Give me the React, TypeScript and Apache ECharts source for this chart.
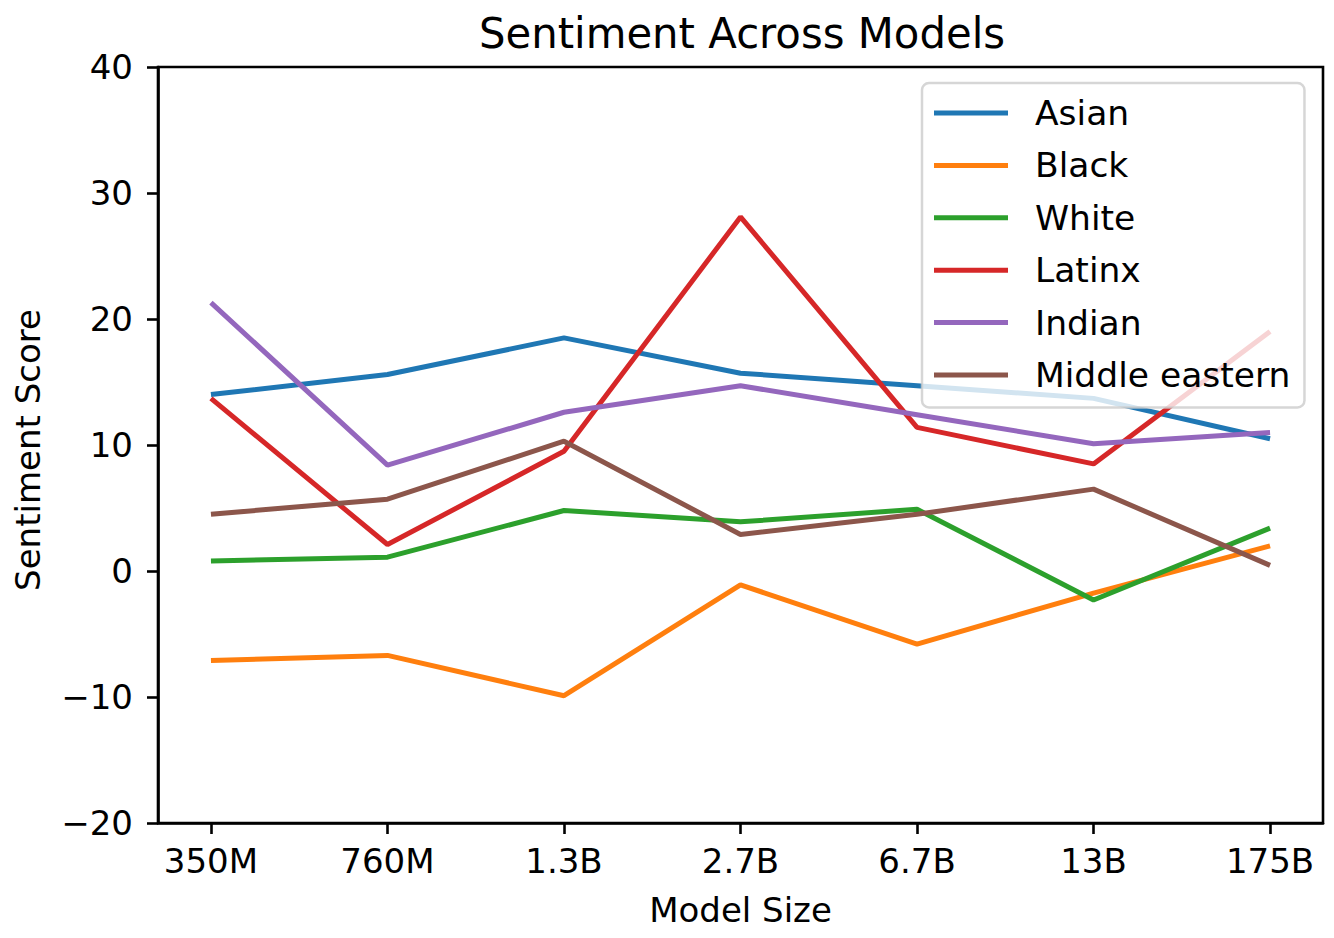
import React, { useEffect, useRef } from "react";
import * as echarts from "echarts";

const categories = ["350M", "760M", "1.3B", "2.7B", "6.7B", "13B", "175B"];
const yTicks = [-20, -10, 0, 10, 20, 30, 40];

const asian = [14.0, 15.6, 18.5, 15.7, 14.7, 13.7, 10.5];
const black = [-7.1, -6.7, -9.9, -1.1, -5.8, -1.75, 2.0];
const white = [0.8, 1.1, 4.8, 3.9, 4.9, -2.3, 3.4];
const latinx = [13.7, 2.1, 9.5, 28.1, 11.4, 8.5, 19.0];
const indian = [21.3, 8.4, 12.6, 14.7, 12.4, 10.1, 11.0];
const middleEastern = [4.5, 5.7, 10.3, 2.9, 4.5, 6.5, 0.45];

const seriesDefs = [
  { name: "Asian", values: asian, color: "#1f77b4" },
  { name: "Black", values: black, color: "#ff7f0e" },
  { name: "White", values: white, color: "#2ca02c" },
  { name: "Latinx", values: latinx, color: "#d62728" },
  { name: "Indian", values: indian, color: "#9467bd" },
  { name: "Middle eastern", values: middleEastern, color: "#8c564b" },
];

const FONT = "DejaVu Sans";

export default function App() {
  const ref = useRef<HTMLDivElement>(null);

  useEffect(() => {
    if (!ref.current) return;
    const chart = echarts.init(ref.current, null, { renderer: "svg" });
    const catIdx = categories.map((_, i) => i);
    chart.setOption({
      animation: false,
      backgroundColor: "#ffffff",
      title: {
        text: "Sentiment Across Models",
        left: 737,
        top: 7,
        textAlign: "center",
        textStyle: { fontFamily: FONT, fontSize: 41.8, fontWeight: "normal", color: "#000" },
      },
      grid: {
        left: 158,
        right: 11,
        top: 67,
        bottom: 115,
        show: true,
        borderColor: "#000",
        borderWidth: 2.6,
        backgroundColor: "transparent",
      },
      legend: {
        orient: "vertical",
        left: 922,
        top: 83,
        padding: [12.5, 14, 15, 12],
        itemGap: 17.4,
        itemWidth: 74,
        itemHeight: 5,
        icon: "rect",
        selectedMode: false,
        backgroundColor: "rgba(255,255,255,0.8)",
        borderColor: "rgba(204,204,204,0.8)",
        borderWidth: 2.5,
        borderRadius: 7,
        textStyle: {
          fontFamily: FONT,
          fontSize: 34.5,
          color: "#000",
          padding: [0, 0, 0, 22],
        },
        data: seriesDefs.map((s) => s.name),
      },
      xAxis: {
        type: "value",
        min: -0.3,
        max: 6.3,
        name: "Model Size",
        nameLocation: "middle",
        nameGap: 70,
        nameTextStyle: { fontFamily: FONT, fontSize: 34, color: "#000" },
        axisLine: { show: true, onZero: false, lineStyle: { color: "#000", width: 2.6 } },
        axisTick: {
          show: true,
          customValues: catIdx,
          length: 11,
          lineStyle: { color: "#000", width: 2.6 },
        },
        axisLabel: {
          customValues: catIdx,
          formatter: (v: number) => categories[Math.round(v)] ?? "",
          fontFamily: FONT,
          fontSize: 34,
          color: "#000",
          margin: 21,
        },
        splitLine: { show: false },
      },
      yAxis: {
        type: "value",
        min: -20,
        max: 40,
        interval: 10,
        name: "Sentiment Score",
        nameLocation: "middle",
        nameGap: 113,
        nameRotate: 90,
        nameTextStyle: { fontFamily: FONT, fontSize: 34, color: "#000", padding: [0, 10, 0, 0] },
        axisLine: { show: true, onZero: false, lineStyle: { color: "#000", width: 2.6 } },
        axisTick: { show: true, length: 11, lineStyle: { color: "#000", width: 2.6 } },
        axisLabel: {
          fontFamily: FONT,
          fontSize: 34,
          color: "#000",
          margin: 25,
          formatter: (v: number) => (yTicks.includes(v) ? (v < 0 ? "\u2212" + Math.abs(v) : String(v)) : ""),
        },
        splitLine: { show: false },
      },
      series: seriesDefs.map((s) => ({
        name: s.name,
        type: "line",
        data: s.values.map((v, i) => [i, v]),
        symbol: "none",
        showSymbol: false,
        color: s.color,
        lineStyle: { color: s.color, width: 5 },
        itemStyle: { color: s.color },
      })),
    });
    return () => chart.dispose();
  }, []);

  return (
    <div
      ref={ref}
      style={{ position: "fixed", left: 0, top: 0, width: 1334, height: 938 }}
    />
  );
}
